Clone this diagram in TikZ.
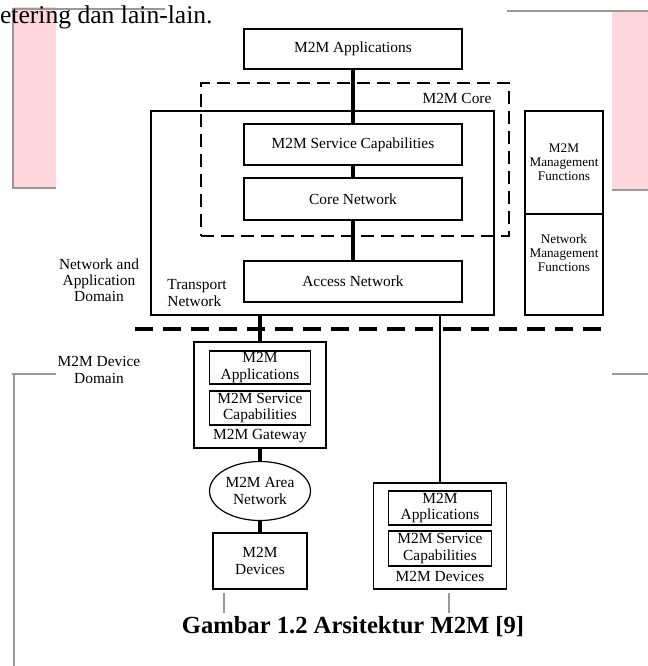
\documentclass[tikz,border=0pt]{standalone}
\usepackage{fontspec}
\setmainfont{Liberation Serif}
\usepackage{tikz}
\usepackage{xcolor}
\usetikzlibrary{
    shapes.geometric
}
\definecolor{pagepink}{RGB}{255,214,219}

\begin{document}
\begin{tikzpicture}[x=0.5pt, y=-0.5pt,
        blk/.style={draw, line width=0.6pt, inner sep=0.5pt, align=center, font=\fontsize{7.7}{8.1}\selectfont},
        txt/.style={inner sep=0pt, align=center, font=\fontsize{7.7}{8.1}\selectfont},
        smalltxt/.style={font=\fontsize{6.6}{7}\selectfont},
        link/.style={line width=1.7pt},
        thinlink/.style={line width=1.2pt},
        coreline/.style={draw, line width=1.4pt, dash pattern=on 6.5pt off 3.5pt},
        domline/.style={line width=2pt, dash pattern=on 9pt off 5pt},
        pageline/.style={draw=black!40, line width=0.7pt}]
                                \useasboundingbox (0,0) rectangle (648,666);
                                \fill[pagepink] (13,7) rectangle (56,188);
                                \fill[pagepink] (612,10) rectangle (648,190);
                                \draw[pageline] (165,9) -- (13,9) -- (13,188) -- (56,188);
                                \draw[pageline] (507,11) -- (648,11);
                                \draw[pageline] (612,190) -- (648,190);
                                \draw[pageline] (12,374) -- (56,374);
                                \draw[pageline] (612,374) -- (648,374);
                                \draw[pageline] (14,374) -- (14,666);
                                \draw[pageline] (224,593) -- (224,613);
                                \draw[pageline] (449,593) -- (449,613);
                                \node[anchor=base east, inner sep=0pt, font=\fontsize{12.8}{14}\selectfont] (pagetext) at (213,23) {etering dan lain-lain.};
                                \node[blk, minimum width=109pt, minimum height=20pt] (app) at (353,49) {M2M Applications};
                                \node[blk, minimum width=171.5pt, minimum height=102pt] (transport) at (322.5,213) {};
                                \node[coreline, minimum width=154pt, minimum height=76.5pt] (core) at (355,159.5) {};
                                \node[txt] (corelbl) at (457,98) {M2M Core};
                                \node[blk, minimum width=109pt, minimum height=20.5pt] (sc) at (353,144.5) {M2M Service Capabilities};
                                \node[blk, minimum width=109pt, minimum height=21pt] (cn) at (353,199) {Core Network};
                                \node[blk, minimum width=109pt, minimum height=20.5pt] (an) at (353,281.5) {Access Network};
                                \node[txt, align=left, anchor=west] (tn) at (167,293) {Transport\\Network};
                                \node[txt] (nad) at (99,280) {Network and\\Application\\Domain};
                                \node[blk, smalltxt, minimum width=39pt, minimum height=51.5pt] (mmf) at (564,162.5) {M2M\\Management\\Functions};
                                \node[blk, minimum width=39pt, minimum height=50.5pt] (nmf) at (564,264.5) {};
                                \node[txt, smalltxt] (nmftxt) at (564,253) {Network\\Management\\Functions};
                                \coordinate (domwest) at (135,329);
                                \coordinate (domeast) at (609,329);
                                \draw[domline] (domwest) -- (domeast);
                                \node[txt] (mdd) at (99,370) {M2M Device\\Domain};
                                \node[blk, minimum width=66pt, minimum height=53pt] (gw) at (260,395) {};
                                \node[blk, minimum width=50.5pt, minimum height=16.5pt] (gwapp) at (260,367.5) {M2M\\Applications};
                                \node[blk, minimum width=50.5pt, minimum height=17pt] (gwsc) at (260,408) {M2M Service\\Capabilities};
                                \node[txt] (gwlbl) at (260,436) {M2M Gateway};
                                \node[blk, ellipse, minimum width=50.5pt, minimum height=29.5pt] (area) at (260,491) {M2M Area\\Network};
                                \node[blk, minimum width=47pt, minimum height=28pt] (dev) at (260,561) {M2M\\Devices};
                                \node[blk, minimum width=66.5pt, minimum height=53pt] (rdev) at (440,536) {};
                                \node[blk, minimum width=51.5pt, minimum height=17pt] (rdevapp) at (440,508) {M2M\\Applications};
                                \node[blk, minimum width=51.5pt, minimum height=17.5pt] (rdevsc) at (440,548.5) {M2M Service\\Capabilities};
                                \node[txt] (rdevlbl) at (440,576) {M2M Devices};
                                \node[inner sep=0pt, font=\bfseries\fontsize{12.3}{14}\selectfont] (caption) at (353,627) {Gambar 1.2 Arsitektur M2M [9]};
                                \draw[link]
                                (app) edge (sc)
                                (sc) edge (cn)
                                (cn) edge (an)
                                (gw.north |- transport.south) edge (gw.north)
                                (gw) edge (area)
                                (area) edge (dev);
                                \draw[thinlink] (rdev.north |- transport.south) -- (rdev.north);
                            \end{tikzpicture}
\end{document}
